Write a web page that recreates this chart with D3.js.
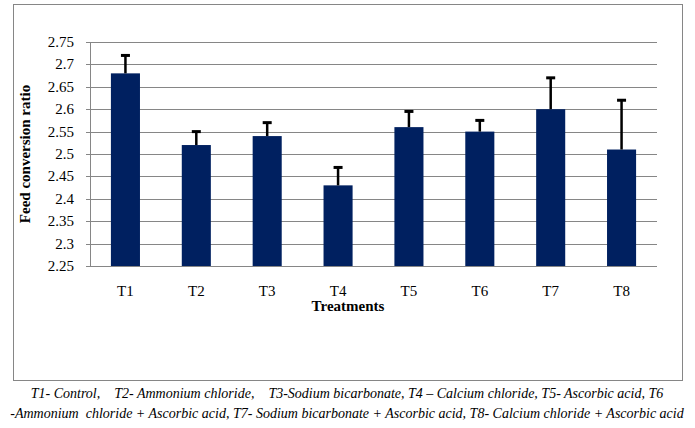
<!DOCTYPE html>
<html>
<head>
<meta charset="utf-8">
<script src="https://cdn.jsdelivr.net/npm/d3@7.9.0/dist/d3.min.js"></script>
<style>
  body { margin: 0; background: #fff; }
  svg text { font-family: "Times New Roman", "Liberation Serif", serif; }
</style>
</head>
<body>
<svg id="chart" width="695" height="428"></svg>
<script>
const treatments = ['T1', 'T2', 'T3', 'T4', 'T5', 'T6', 'T7', 'T8'];
const fcr = [2.68, 2.52, 2.54, 2.43, 2.56, 2.55, 2.60, 2.51];
const errors = [0.04, 0.03, 0.03, 0.04, 0.035, 0.025, 0.07, 0.11];
const yTicks = [2.25, 2.3, 2.35, 2.4, 2.45, 2.5, 2.55, 2.6, 2.65, 2.7, 2.75];
const captionLines = [
  'T1- Control,    T2- Ammonium chloride,    T3-Sodium bicarbonate, T4 \u2013 Calcium chloride, T5- Ascorbic acid, T6',
  '-Ammonium  chloride + Ascorbic acid, T7- Sodium bicarbonate + Ascorbic acid, T8- Calcium chloride + Ascorbic acid'
];

const svg = d3.select('#chart');
const plotLeft = 90, plotRight = 657, plotTop = 42, plotBottom = 266;

// chart frame
svg.append('rect')
  .attr('x', 13.5).attr('y', 4.5)
  .attr('width', 669).attr('height', 376)
  .attr('fill', 'none').attr('stroke', '#868686');

let x = d3.scaleBand().domain(treatments).range([plotLeft, plotRight]).paddingInner(0.59).paddingOuter(0.295);
let y = d3.scaleLinear().domain([2.25, 2.75]).range([plotBottom, plotTop]);

// gridlines
svg.append('g').selectAll('line').data(yTicks).join('line')
  .attr('x1', plotLeft - 4).attr('x2', plotRight)
  .attr('y1', d => Math.round(y(d)) + 0.5).attr('y2', d => Math.round(y(d)) + 0.5)
  .attr('stroke', '#868686');

svg.append('line')
  .attr('x1', plotLeft + 0.5).attr('x2', plotLeft + 0.5)
  .attr('y1', plotTop).attr('y2', plotBottom)
  .attr('stroke', '#868686');

// y labels
svg.append('g').selectAll('text').data(yTicks).join('text')
  .attr('x', plotLeft - 16).attr('y', d => y(d) + 5)
  .attr('text-anchor', 'end')
  .attr('font-size', 15)
  .text(d => d);

// bars
svg.append('g').selectAll('rect').data(fcr).join('rect')
  .attr('x', (d, i) => x(treatments[i]))
  .attr('y', d => y(d))
  .attr('width', x.bandwidth())
  .attr('height', d => y(2.25) - y(d))
  .attr('fill', '#002060');

// error bars (upper only)
let eb = svg.append('g');
fcr.forEach((d, i) => {
  let cx = x(treatments[i]) + x.bandwidth() / 2;
  eb.append('line')
    .attr('x1', cx).attr('x2', cx)
    .attr('y1', y(d)).attr('y2', y(d + errors[i]))
    .attr('stroke', '#000').attr('stroke-width', 2.5);
  eb.append('line')
    .attr('x1', cx - 4.5).attr('x2', cx + 4.5)
    .attr('y1', y(d + errors[i])).attr('y2', y(d + errors[i]))
    .attr('stroke', '#000').attr('stroke-width', 3);
});

// x labels
svg.append('g').selectAll('text').data(treatments).join('text')
  .attr('x', d => x(d) + x.bandwidth() / 2)
  .attr('y', 296)
  .attr('text-anchor', 'middle')
  .attr('font-size', 15)
  .text(d => d);

svg.append('text')
  .attr('x', 348).attr('y', 311)
  .attr('text-anchor', 'middle')
  .attr('font-size', 15).attr('font-weight', 'bold')
  .text('Treatments');

svg.append('text')
  .attr('transform', `translate(30, ${(plotTop + plotBottom) / 2}) rotate(-90)`)
  .attr('text-anchor', 'middle')
  .attr('font-size', 15).attr('font-weight', 'bold')
  .text('Feed conversion ratio');

// caption
svg.append('g').selectAll('text').data(captionLines).join('text')
  .attr('x', 347).attr('y', (d, i) => 398 + i * 20)
  .attr('text-anchor', 'middle')
  .attr('font-size', 14).attr('font-style', 'italic')
  .style('white-space', 'pre')
  .text(d => d);
</script>
</body>
</html>
